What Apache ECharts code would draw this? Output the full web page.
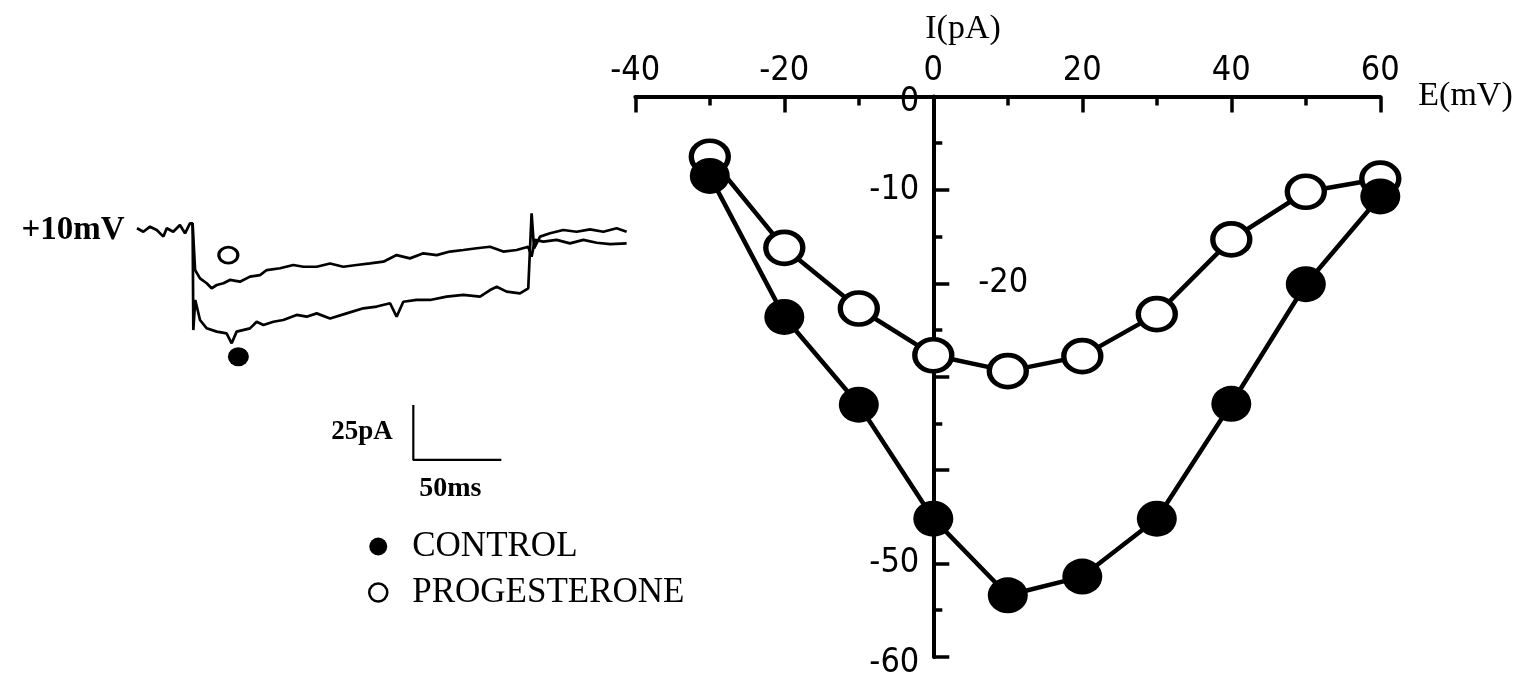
<!DOCTYPE html>
<html>
<head>
<meta charset="utf-8">
<script src="https://cdn.jsdelivr.net/npm/echarts@6/dist/echarts.min.js"></script>
<style>
html,body{margin:0;padding:0;background:#fff;}
#chart{width:1531px;height:673px;}
</style>
</head>
<body>
<div id="chart"></div>
<script>
// ---- I-V curve data ----
var voltages = [-30, -20, -10, 0, 10, 20, 30, 40, 50, 60];           // E (mV)
var controlI = [-8.5, -23.6, -33.0, -45.2, -53.4, -51.4, -45.2, -32.9, -20.1, -10.7]; // I (pA)
var progesteroneI = [-6.45, -16.2, -22.7, -27.7, -29.4, -27.8, -23.3, -15.3, -10.2, -8.8];
var xTicks = [-40, -20, 0, 20, 40, 60];
var yLabelsLeft = [0, -10, -50, -60];
var yLabelsRight = [-20];
var seriesNames = ['CONTROL', 'PROGESTERONE'];

// ---- current traces at +10 mV (time ms, current pA) ----
var traceBaseline = [[0,0.8],[3.6,-0.8],[7.4,1.5],[11.2,0],[15.0,-3.0],[16.9,0.8],[20.6,-0.8],[24.4,2.3],[27.3,-1.5],[30.1,3.0],[31.6,3.0]];
var traceControl = [[32.0,-45.5],[33.1,-31.8],[35.8,-40.9],[39.6,-44.7],[45.3,-46.2],[50.9,-47.0],[53.8,-51.5],[56.6,-46.2],[64.2,-44.7],[68.0,-41.7],[71.8,-43.2],[77.5,-41.7],[83.1,-40.9],[90.7,-38.6],[96.4,-39.4],[102.1,-37.9],[109.7,-40.2],[119.1,-37.9],[128.6,-35.6],[136.2,-34.8],[143.8,-33.3],[147.5,-39.4],[151.3,-32.6],[158.9,-31.8],[166.5,-31.8],[175.9,-30.3],[185.4,-29.5],[194.9,-30.3],[200.6,-27.3],[204.4,-25.8],[210.0,-28.0],[217.6,-28.8],[222.3,-26.5],[223.3,-25.8],[224.2,7.6],[225.6,-8.3],[229.0,-3.0],[234.7,-1.5],[242.2,0],[249.8,-0.8],[257.4,0.3],[265.0,-0.8],[272.5,0.8],[278.2,-0.8]];
var traceProgesterone = [[33.0,-18.2],[35.8,-22.0],[39.6,-24.2],[42.4,-26.5],[45.3,-25.0],[49.1,-24.2],[52.8,-22.7],[58.5,-23.5],[64.2,-21.2],[69.9,-20.5],[73.7,-18.2],[81.3,-17.4],[88.8,-15.9],[94.5,-16.7],[102.1,-16.7],[109.7,-15.2],[117.2,-16.7],[124.8,-15.9],[132.4,-15.2],[140.0,-14.4],[147.5,-11.4],[155.1,-12.9],[162.7,-10.6],[170.3,-11.4],[177.8,-9.8],[185.4,-9.1],[193.0,-8.3],[200.6,-7.6],[208.1,-9.8],[215.7,-9.1],[222.3,-7.6],[224.2,-12.1],[226.1,-4.5],[230.9,-5.3],[238.4,-4.5],[246.0,-6.1],[253.6,-4.5],[261.2,-5.8],[268.8,-6.4],[278.2,-6.1]];
var traceMarkerControl = [57.6, -57.6];
var traceMarkerProgesterone = [51.9, -11.4];
var scaleBar = [[157,-79.5],[157,-104.5],[207,-104.5]];   // 25 pA, 50 ms
var scaleLabelPA = [157, -92];
var scaleLabelMS = [178, -104.5];
var stepLabelAt = [0, 0];
var stepLabel = '+10mV';

var serif = "'Liberation Serif', 'DejaVu Serif', serif";
var narrow = "'Liberation Sans Narrow', 'DejaVu Sans Condensed', 'Liberation Sans', sans-serif";

function zip(a, b){ return a.map(function(v,i){ return [v, b[i]]; }); }

var tickFont = {color: '#000', fontFamily: narrow, fontSize: 34};
var chart = echarts.init(document.getElementById('chart'), null, {renderer:'canvas'});
var option = {
  animation: false,
  backgroundColor: '#fff',
  legend: {
    orient: 'vertical',
    left: 363, top: 524,
    itemWidth: 18, itemHeight: 18, itemGap: 11,
    icon: 'circle',
    textStyle: {fontFamily: serif, fontSize: 35, color: '#000', padding: [0,0,0,20]},
    data: [
      {name: 'CONTROL', itemStyle: {color: '#000', borderWidth: 0}},
      {name: 'PROGESTERONE', itemStyle: {color: '#fff', borderColor: '#000', borderWidth: 2.5}}
    ],
    selectedMode: false
  },
  grid: [
    {left: 635.3, top: 96.5, width: 745, height: 560.4, containLabel: false, outerBoundsMode: 'none'},
    {left: 137, top: 208, width: 492.8, height: 264, containLabel: false, outerBoundsMode: 'none'}
  ],
  xAxis: [
    {
      type: 'value', gridIndex: 0, min: -40, max: 60, interval: 20, position: 'top',
      axisLine: {onZero: false, lineStyle: {color: '#000', width: 4}},
      axisTick: {inside: true, length: 16, lineStyle: {color: '#000', width: 3.5}},
      minorTick: {show: true, splitNumber: 2, length: 9, lineStyle: {color: '#000', width: 3.5}},
      axisLabel: {color: '#000', fontFamily: narrow, fontSize: 34, margin: 8,
        formatter: function(v){ return xTicks.indexOf(v) >= 0 ? String(v) : ''; }},
      splitLine: {show: false},
      name: 'E(mV)', nameLocation: 'end', nameGap: 38,
      nameTextStyle: {fontFamily: serif, fontSize: 34, color: '#000', padding: [12,0,0,0]}
    },
    {type: 'value', gridIndex: 1, min: 0, max: 280, show: false}
  ],
  yAxis: [
    {
      type: 'value', gridIndex: 0, min: -60, max: 0, interval: 10, position: 'left', offset: -298,
      axisLine: {onZero: false, lineStyle: {color: '#000', width: 4}},
      axisTick: {inside: true, length: 16, lineStyle: {color: '#000', width: 3.5}},
      minorTick: {show: true, splitNumber: 2, length: 9, lineStyle: {color: '#000', width: 3.5}},
      axisLabel: {color: '#000', fontFamily: narrow, fontSize: 34, margin: 14,
        formatter: function(v){
          if (yLabelsLeft.indexOf(v) < 0) return '';
          if (v === 0 || v === -60) return '{d|' + v + '}';
          return String(v);
        },
        rich: {d: {color: '#000', fontFamily: narrow, fontSize: 34, padding: [12,0,0,0]}}
      },
      splitLine: {show: false},
      name: 'I(pA)', nameLocation: 'end', nameGap: 50,
      nameTextStyle: {fontFamily: serif, fontSize: 34, color: '#000', align: 'left', padding: [0,0,0,-8]}
    },
    {
      type: 'value', gridIndex: 0, min: -60, max: 0, interval: 10, position: 'right', offset: -447,
      axisLine: {show: false, onZero: false}, axisTick: {show: false}, splitLine: {show: false},
      axisLabel: {color: '#000', fontFamily: narrow, fontSize: 34, margin: 45,
        formatter: function(v){ return yLabelsRight.indexOf(v) >= 0 ? String(v) : ''; }}
    },
    {type: 'value', gridIndex: 1, min: -110, max: 10, show: false}
  ],
  series: [
    {
      name: seriesNames[1], type: 'line', xAxisIndex: 0, yAxisIndex: 0, z: 2,
      data: zip(voltages, progesteroneI),
      symbol: 'circle', symbolSize: [37, 32], showAllSymbol: true,
      itemStyle: {color: '#fff', borderColor: '#000', borderWidth: 5},
      lineStyle: {color: '#000', width: 4.5}
    },
    {
      name: seriesNames[0], type: 'line', xAxisIndex: 0, yAxisIndex: 0, z: 3,
      data: zip(voltages, controlI),
      symbol: 'circle', symbolSize: [40, 36], showAllSymbol: true,
      itemStyle: {color: '#000'},
      lineStyle: {color: '#000', width: 4.5}
    },
    {
      type: 'line', xAxisIndex: 1, yAxisIndex: 2, showSymbol: false,
      data: traceBaseline.concat(traceControl),
      lineStyle: {color: '#000', width: 2.7}, silent: true
    },
    {
      type: 'line', xAxisIndex: 1, yAxisIndex: 2, showSymbol: false,
      data: traceBaseline.slice(-1).concat(traceProgesterone),
      lineStyle: {color: '#000', width: 2.7}, silent: true
    },
    {
      type: 'line', xAxisIndex: 1, yAxisIndex: 2, showSymbol: false,
      data: scaleBar,
      lineStyle: {color: '#000', width: 2.2}, silent: true
    },
    {
      type: 'scatter', xAxisIndex: 1, yAxisIndex: 2, silent: true,
      data: [
        {value: traceMarkerProgesterone, symbolSize: [19, 16], itemStyle: {color: '#fff', borderColor: '#000', borderWidth: 3, opacity: 1}},
        {value: traceMarkerControl, symbolSize: [21, 19], itemStyle: {color: '#000', opacity: 1}}
      ]
    },
    {
      type: 'scatter', xAxisIndex: 1, yAxisIndex: 2, silent: true,
      symbolSize: 1, itemStyle: {color: 'rgba(0,0,0,0)', opacity: 1},
      label: {show: true, color: '#000', fontFamily: serif},
      data: [
        {value: stepLabelAt, label: {formatter: stepLabel, position: 'left', distance: 12, fontSize: 33, fontWeight: 'bold'}},
        {value: scaleLabelPA, label: {formatter: '25pA', position: 'left', distance: 20, fontSize: 27, fontWeight: 'bold'}},
        {value: scaleLabelMS, label: {formatter: '50ms', position: 'bottom', distance: 14, fontSize: 28, fontWeight: 'bold'}}
      ]
    }
  ]
};
chart.setOption(option);
</script>
</body>
</html>
